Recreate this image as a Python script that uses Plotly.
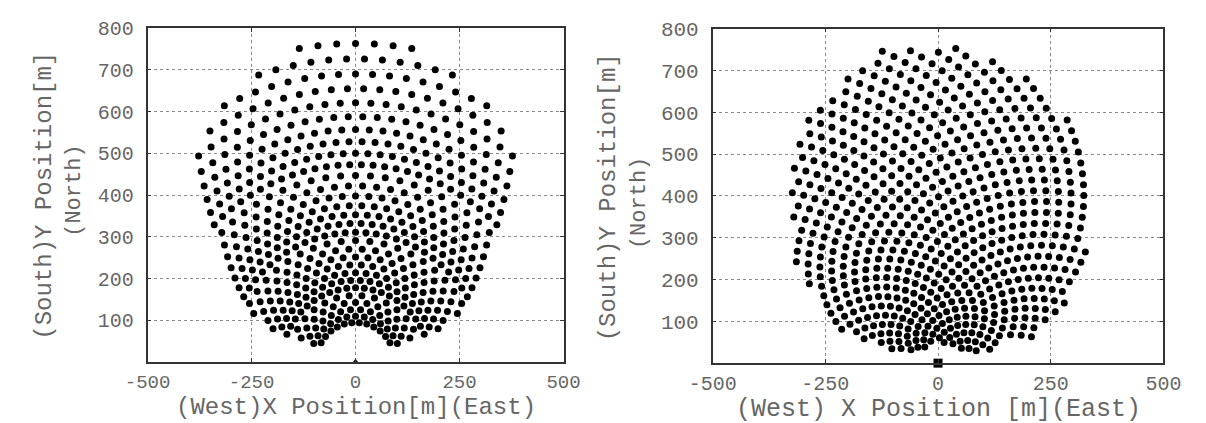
import numpy as np
import plotly.graph_objects as go

# ---------------- LEFT FIELD (radial staggered rows) ----------------
# each zone: row radii [m], half-extent of each row [deg from north], angular pitch [deg]
ZONE_A_R = [763, 726, 690, 655, 621, 588, 557, 528, 500, 473]
ZONE_A_MAXANG = [10.5, 19, 27.5, 33, 38, 40, 42, 44, 45.8, 47]
ZONE_A_STEP = 3.4

ZONE_B_R = [447, 422, 398, 375, 353, 332, 311]
ZONE_B_MAXANG = [49, 51, 52.5, 55, 57, 59, 62]
ZONE_B_STEP = 4.6

ZONE_C_R = [291, 271, 252, 233, 214, 196, 178]
ZONE_C_MAXANG = [64.7, 66, 67, 68, 69.5, 70, 70.5]
ZONE_C_STEP = 6.8

ZONE_D_R = [160, 143, 126, 110, 95]
ZONE_D_MAXANG = [70, 70, 69, 68, 67.5]
ZONE_D_STEP = 11.0

# ---------------- RIGHT FIELD (spiral layout, parameters + outline) ----------------
SPIRAL_A = 4.5
SPIRAL_B = 0.65
SPIRAL_N = 3000
RIGHT_BX = [25, 64, 101, 135, 169, 201, 232, 260, 285, 305, 316, 320, 334, 326, 309, 283, 279, 268,
            205, 168, 131, 110, 68, 48, 0, -26, -65, -110, -147, -199, -226, -249, -267, -282, -296,
            -308, -305, -317, -318, -318, -317, -308, -300, -292, -282, -270, -214, -177, -119, -80, -38, 0]
RIGHT_BY = [752, 739, 725, 709, 690, 671, 651, 597, 572, 515, 457, 398, 372, 315, 234, 208, 179, 138,
            74, 68, 56, 43, 39, 47, 59, 47, 39, 43, 63, 78, 98, 120, 166, 189, 213,
            235, 292, 317, 370, 395, 443, 475, 524, 550, 575, 600, 649, 694, 735, 748, 744, 735]

X_TICKS = [-500, -250, 0, 250, 500]
X_TICKTEXT = ["-500", "-250", "0", "250", "500"]
Y_TICKS = [100, 200, 300, 400, 500, 600, 700, 800]


def zone_points(radii, maxang, step, start_parity=0):
    xs, ys = [], []
    for i, (r, m) in enumerate(zip(radii, maxang)):
        off = 0.5 if (i + start_parity) % 2 else 0.0
        n = int(m / step) + 2
        for j in range(-n, n + 1):
            a = step * (j + off)
            if abs(a) <= m + 0.3:
                xs.append(r * np.sin(np.radians(a)))
                ys.append(r * np.cos(np.radians(a)))
    return xs, ys


lx, ly = [], []
for zr, zm, zs, p in [(ZONE_A_R, ZONE_A_MAXANG, ZONE_A_STEP, 0),
                      (ZONE_B_R, ZONE_B_MAXANG, ZONE_B_STEP, 0),
                      (ZONE_C_R, ZONE_C_MAXANG, ZONE_C_STEP, 0),
                      (ZONE_D_R, ZONE_D_MAXANG, ZONE_D_STEP, 1)]:
    a, b = zone_points(zr, zm, zs, p)
    lx += a
    ly += b


def inside(px, py, polyx, polyy):
    polyx = np.asarray(polyx, float)
    polyy = np.asarray(polyy, float)
    res = np.zeros(len(px), bool)
    n = len(polyx)
    j = n - 1
    for i in range(n):
        xi, yi, xj, yj = polyx[i], polyy[i], polyx[j], polyy[j]
        cond = ((yi > py) != (yj > py)) & (px < (xj - xi) * (py - yi) / (yj - yi + 1e-12) + xi)
        res ^= cond
        j = i
    return res


k = np.arange(1, SPIRAL_N + 1)
golden = 2 * np.pi * (1 - 1 / ((1 + 5 ** 0.5) / 2))
rr = SPIRAL_A * k ** SPIRAL_B
th = k * golden
sx = rr * np.sin(th)
sy = rr * np.cos(th)
cx, cy = np.mean(RIGHT_BX), np.mean(RIGHT_BY)
bx = cx + (np.array(RIGHT_BX) - cx) * 1.035
by = cy + (np.array(RIGHT_BY) - cy) * 1.035
mask = inside(sx, sy, bx, by)
rx, ry = sx[mask], sy[mask]

FONT = "Liberation Mono, Courier New, monospace"
GREY = "#666666"

fig = go.Figure()
fig.add_trace(go.Scatter(x=lx, y=ly, mode="markers", xaxis="x", yaxis="y",
                         marker=dict(color="black", size=7), showlegend=False, hoverinfo="skip"))
fig.add_trace(go.Scatter(x=[0], y=[0], mode="markers", xaxis="x", yaxis="y", cliponaxis=False,
                         marker=dict(color="black", size=7, symbol="triangle-up"), showlegend=False))
fig.add_trace(go.Scatter(x=rx, y=ry, mode="markers", xaxis="x2", yaxis="y2",
                         marker=dict(color="black", size=7), showlegend=False, hoverinfo="skip"))
fig.add_trace(go.Scatter(x=[0], y=[0], mode="markers", xaxis="x2", yaxis="y2", cliponaxis=False,
                         marker=dict(color="black", size=9, symbol="square"), showlegend=False))

W, H = 1206, 423


def xaxis(dom, anchor, size):
    return dict(domain=dom, anchor=anchor, range=[-500, 500], tickvals=X_TICKS, ticktext=X_TICKTEXT,
                showgrid=True, gridcolor="#8a8a8a", griddash="dot", gridwidth=1, zeroline=False,
                showline=True, linecolor="#333333", linewidth=1.5, mirror="ticks",
                ticks="inside", ticklen=4, tickcolor="#333333",
                tickfont=dict(family=FONT, size=size, color=GREY), ticklabelstandoff=1)


def yaxis(dom, anchor, size):
    return dict(domain=dom, anchor=anchor, range=[0, 800], tickvals=Y_TICKS,
                showgrid=True, gridcolor="#8a8a8a", griddash="dot", gridwidth=1, zeroline=False,
                showline=True, linecolor="#333333", linewidth=1.5, mirror="ticks",
                ticks="inside", ticklen=4, tickcolor="#333333",
                tickfont=dict(family=FONT, size=size, color=GREY), ticklabelstandoff=8)


fig.update_layout(
    width=W, height=H, margin=dict(l=0, r=0, t=0, b=0),
    paper_bgcolor="white", plot_bgcolor="white",
    xaxis=xaxis([128 / W, 559 / W], "y", 19),
    yaxis=yaxis([(H - 360.7) / H, (H - 18.4) / H], "x", 20),
    xaxis2=xaxis([713.5 / W, 1180.5 / W], "y2", 20),
    yaxis2=yaxis([(H - 361.7) / H, (H - 19) / H], "x2", 21),
)


def ann(text, xpx, ypx, size, angle=0):
    fig.add_annotation(text=text, x=xpx / W, y=1 - ypx / H, xref="paper", yref="paper",
                       showarrow=False, textangle=angle, xanchor="center", yanchor="middle",
                       font=dict(family=FONT, size=size, color=GREY))


ann("(West)X Position[m](East)", 343.5, 407, 24)
ann("(South)Y Position[m]", 21, 190, 24, -90)
ann("(North)", 52, 185, 22, -90)
ann("(West) X Position [m](East)", 947, 409, 25)
ann("(South)Y Position[m]", 606, 192, 24, -90)
ann("(North)", 638, 198, 22, -90)

fig.write_html("out.html")
